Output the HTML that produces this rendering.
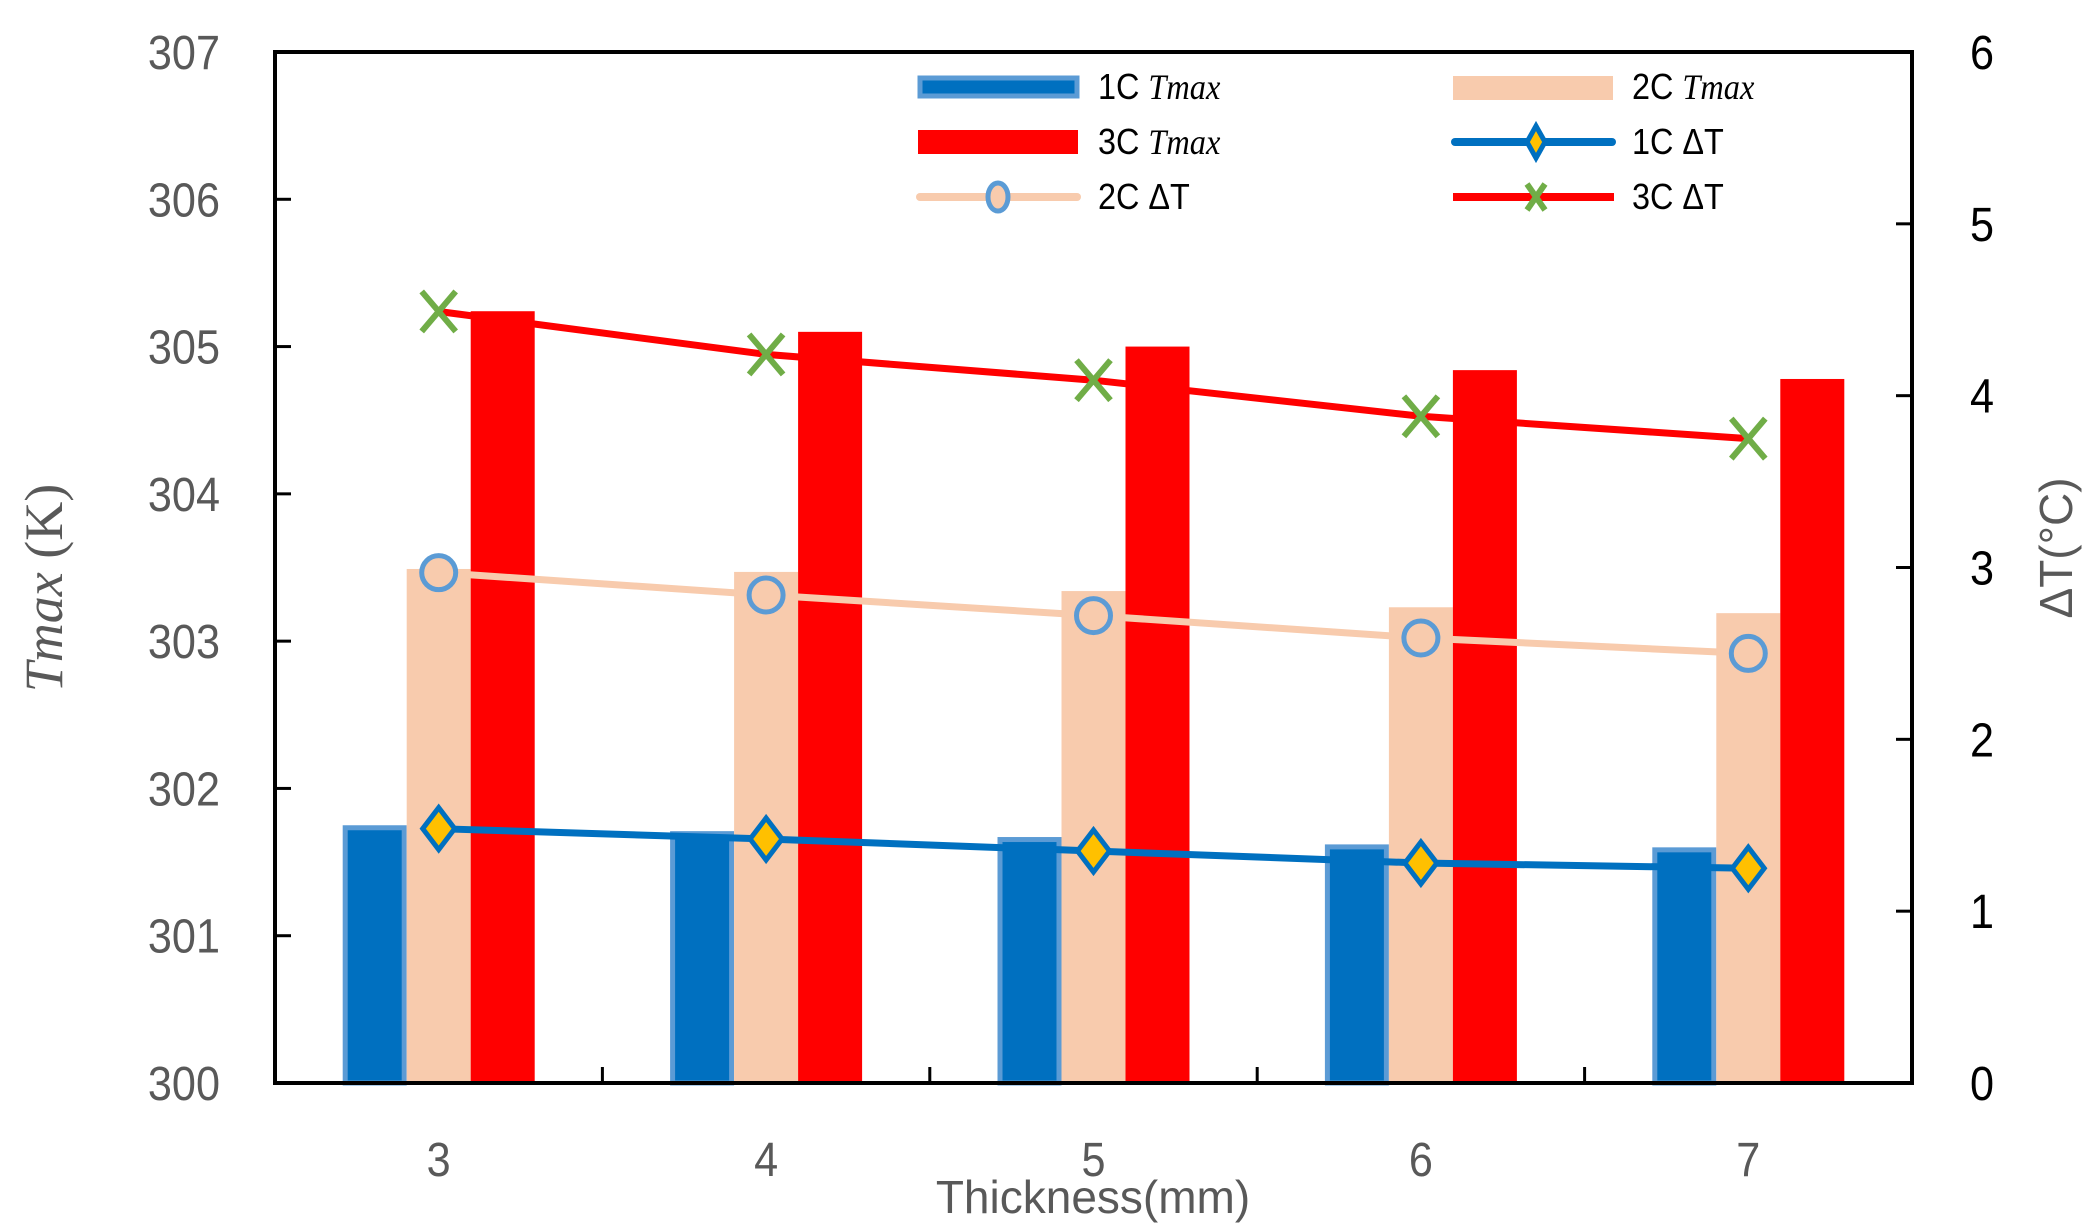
<!DOCTYPE html>
<html><head><meta charset="utf-8"><style>
html,body{margin:0;padding:0;background:#fff}
svg{display:block;font-family:"Liberation Sans",sans-serif}
</style></head><body>
<svg id="chart" width="2086" height="1230" viewBox="0 0 2086 1230" xmlns="http://www.w3.org/2000/svg">
<g id="bars"></g>
<g id="lines"></g>
<g id="axes"></g>
<text transform="translate(62,588) rotate(-90)" text-anchor="middle" font-family="Liberation Serif,serif" font-size="54" fill="#595959"><tspan font-style="italic">Tmax</tspan> (K)</text>
<text transform="translate(2072,548) rotate(-90)" text-anchor="middle" font-size="46" fill="#595959">ΔT(°C)</text>
<text x="1093" y="1213" text-anchor="middle" font-size="46" fill="#595959">Thickness(mm)</text>
<g id="legend" font-size="36" fill="#000">
 <g><rect x="920" y="78" width="157" height="18" fill="#0070c0" stroke="#5b9bd5" stroke-width="5"/><text x="1098" y="99" transform="translate(1098,0) scale(0.9,1) translate(-1098,0)">1C <tspan font-family="Liberation Serif,serif" font-style="italic">Tmax</tspan></text></g>
 <g><rect x="1453" y="76" width="160" height="24" fill="#f8cbad"/><text x="1632" y="99" transform="translate(1632,0) scale(0.9,1) translate(-1632,0)">2C <tspan font-family="Liberation Serif,serif" font-style="italic">Tmax</tspan></text></g>
 <g><rect x="918" y="130" width="160" height="24" fill="#ff0000"/><text x="1098" y="154" transform="translate(1098,0) scale(0.9,1) translate(-1098,0)">3C <tspan font-family="Liberation Serif,serif" font-style="italic">Tmax</tspan></text></g>
 <g><line x1="1455" y1="142" x2="1612" y2="142" stroke="#0070c0" stroke-width="8" stroke-linecap="round"/><path d="M1536,126 L1545,142 L1536,158 L1527,142Z" fill="#ffc000" stroke="#0070c0" stroke-width="5"/><text x="1632" y="154" transform="translate(1632,0) scale(0.9,1) translate(-1632,0)">1C ΔT</text></g>
 <g><line x1="920" y1="197" x2="1077" y2="197" stroke="#f8cbad" stroke-width="8" stroke-linecap="round"/><ellipse cx="998" cy="197" rx="10" ry="14" fill="#f8cbad" stroke="#5b9bd5" stroke-width="5"/><text x="1098" y="209" transform="translate(1098,0) scale(0.9,1) translate(-1098,0)">2C ΔT</text></g>
 <g><line x1="1453" y1="197" x2="1614" y2="197" stroke="#ff0000" stroke-width="8"/><path d="M1527,184 L1545,210 M1545,184 L1527,210" stroke="#70ad47" stroke-width="6"/><text x="1632" y="209" transform="translate(1632,0) scale(0.9,1) translate(-1632,0)">3C ΔT</text></g>
</g>
</svg>
<script>
const categories=["3","4","5","6","7"];
const tmax1C=[301.75,301.71,301.67,301.62,301.60];
const tmax2C=[303.49,303.47,303.34,303.23,303.19];
const tmax3C=[305.24,305.10,305.00,304.84,304.78];
const dt1C=[1.48,1.42,1.35,1.28,1.25];
const dt2C=[2.97,2.84,2.72,2.59,2.50];
const dt3C=[4.49,4.24,4.09,3.88,3.75];
const leftTicks=[300,301,302,303,304,305,306,307];
const rightTicks=[0,1,2,3,4,5,6];

const L=275,R=1912,T=52,B=1083;
const NS="http://www.w3.org/2000/svg";
const catW=(R-L)/categories.length;
function yL(v){return B-(v-300)/7*(B-T);}
function yR(v){return B-v/6*(B-T);}
function xC(i){return L+catW*(i+0.5);}
function mk(tag,attrs,parent){const e=document.createElementNS(NS,tag);for(const k in attrs)e.setAttribute(k,attrs[k]);parent.appendChild(e);return e;}
function narrow(el,x){el.setAttribute('transform',`translate(${x},0) scale(0.9,1) translate(${-x},0)`);}
const bars=document.getElementById('bars'),lines=document.getElementById('lines'),axes=document.getElementById('axes');
const bw=64;
const series=[[tmax1C,'#0070c0','1c'],[tmax2C,'#f8cbad','2c'],[tmax3C,'#ff0000','3c']];
categories.forEach((c,i)=>{
  series.forEach((s,j)=>{
    const x=xC(i)-96+j*bw, y=yL(s[0][i]);
    const r=mk('rect',{x:x,y:y,width:bw,height:B-y,fill:s[1]},bars);
    if(j===0){r.setAttribute('stroke','#5b9bd5');r.setAttribute('stroke-width','5');r.setAttribute('x',x+2.5);r.setAttribute('width',bw-5);r.setAttribute('y',y+2.5);r.setAttribute('height',B-y-2.5);}
    
    
  });
});
function poly(arr,color,name){
  const p=mk('polyline',{points:arr.map((v,i)=>xC(i)+','+yR(v)).join(' '),fill:'none',stroke:color,'stroke-width':7},lines);
  
  
}
poly(dt3C,'#ff0000','line-3c-dt');
poly(dt2C,'#f8cbad','line-2c-dt');
poly(dt1C,'#0070c0','line-1c-dt');
categories.forEach((c,i)=>{
  const x=xC(i);
  let y=yR(dt1C[i]);
  const d=mk('path',{d:`M${x},${y-21} L${x+16},${y} L${x},${y+21} L${x-16},${y}Z`,fill:'#ffc000',stroke:'#0070c0','stroke-width':5},lines);
  
  
  y=yR(dt2C[i]);
  const o=mk('circle',{cx:x,cy:y,r:17,fill:'#f8cbad',stroke:'#5b9bd5','stroke-width':5},lines);
  
  
  y=yR(dt3C[i]);
  const m=mk('path',{d:`M${x-17},${y-20} L${x+17},${y+20} M${x+17},${y-20} L${x-17},${y+20}`,stroke:'#70ad47','stroke-width':6},lines);
  
  
  const t=mk('text',{x:x,y:1176,'text-anchor':'middle','font-size':48,fill:'#595959'},axes);
  t.textContent=c;
  narrow(t,x);
  
  
});
for(let i=1;i<categories.length;i++){
  const x=L+catW*i;
  const tk=mk('line',{x1:x,y1:B,x2:x,y2:B-16,stroke:'#000','stroke-width':3},axes);
  
  
}
leftTicks.forEach(v=>{
  const y=yL(v);
  const tk=mk('line',{x1:L,y1:y,x2:L+16,y2:y,stroke:'#000','stroke-width':3},axes);
  
  
  const t=mk('text',{x:220,y:y+17,'text-anchor':'end','font-size':48,fill:'#595959'},axes);
  t.textContent=v;
  narrow(t,220);
  
  
});
rightTicks.forEach(v=>{
  const y=yR(v);
  const tk=mk('line',{x1:R,y1:y,x2:R-16,y2:y,stroke:'#000','stroke-width':3},axes);
  
  
  const t=mk('text',{x:1982,y:y+17,'text-anchor':'middle','font-size':48,fill:'#000'},axes);
  t.textContent=v;
  narrow(t,1982);
  
  
});
const frame=mk('rect',{x:L,y:T,width:R-L,height:B-T,fill:'none',stroke:'#000','stroke-width':4},axes);


</script>
</body></html>
